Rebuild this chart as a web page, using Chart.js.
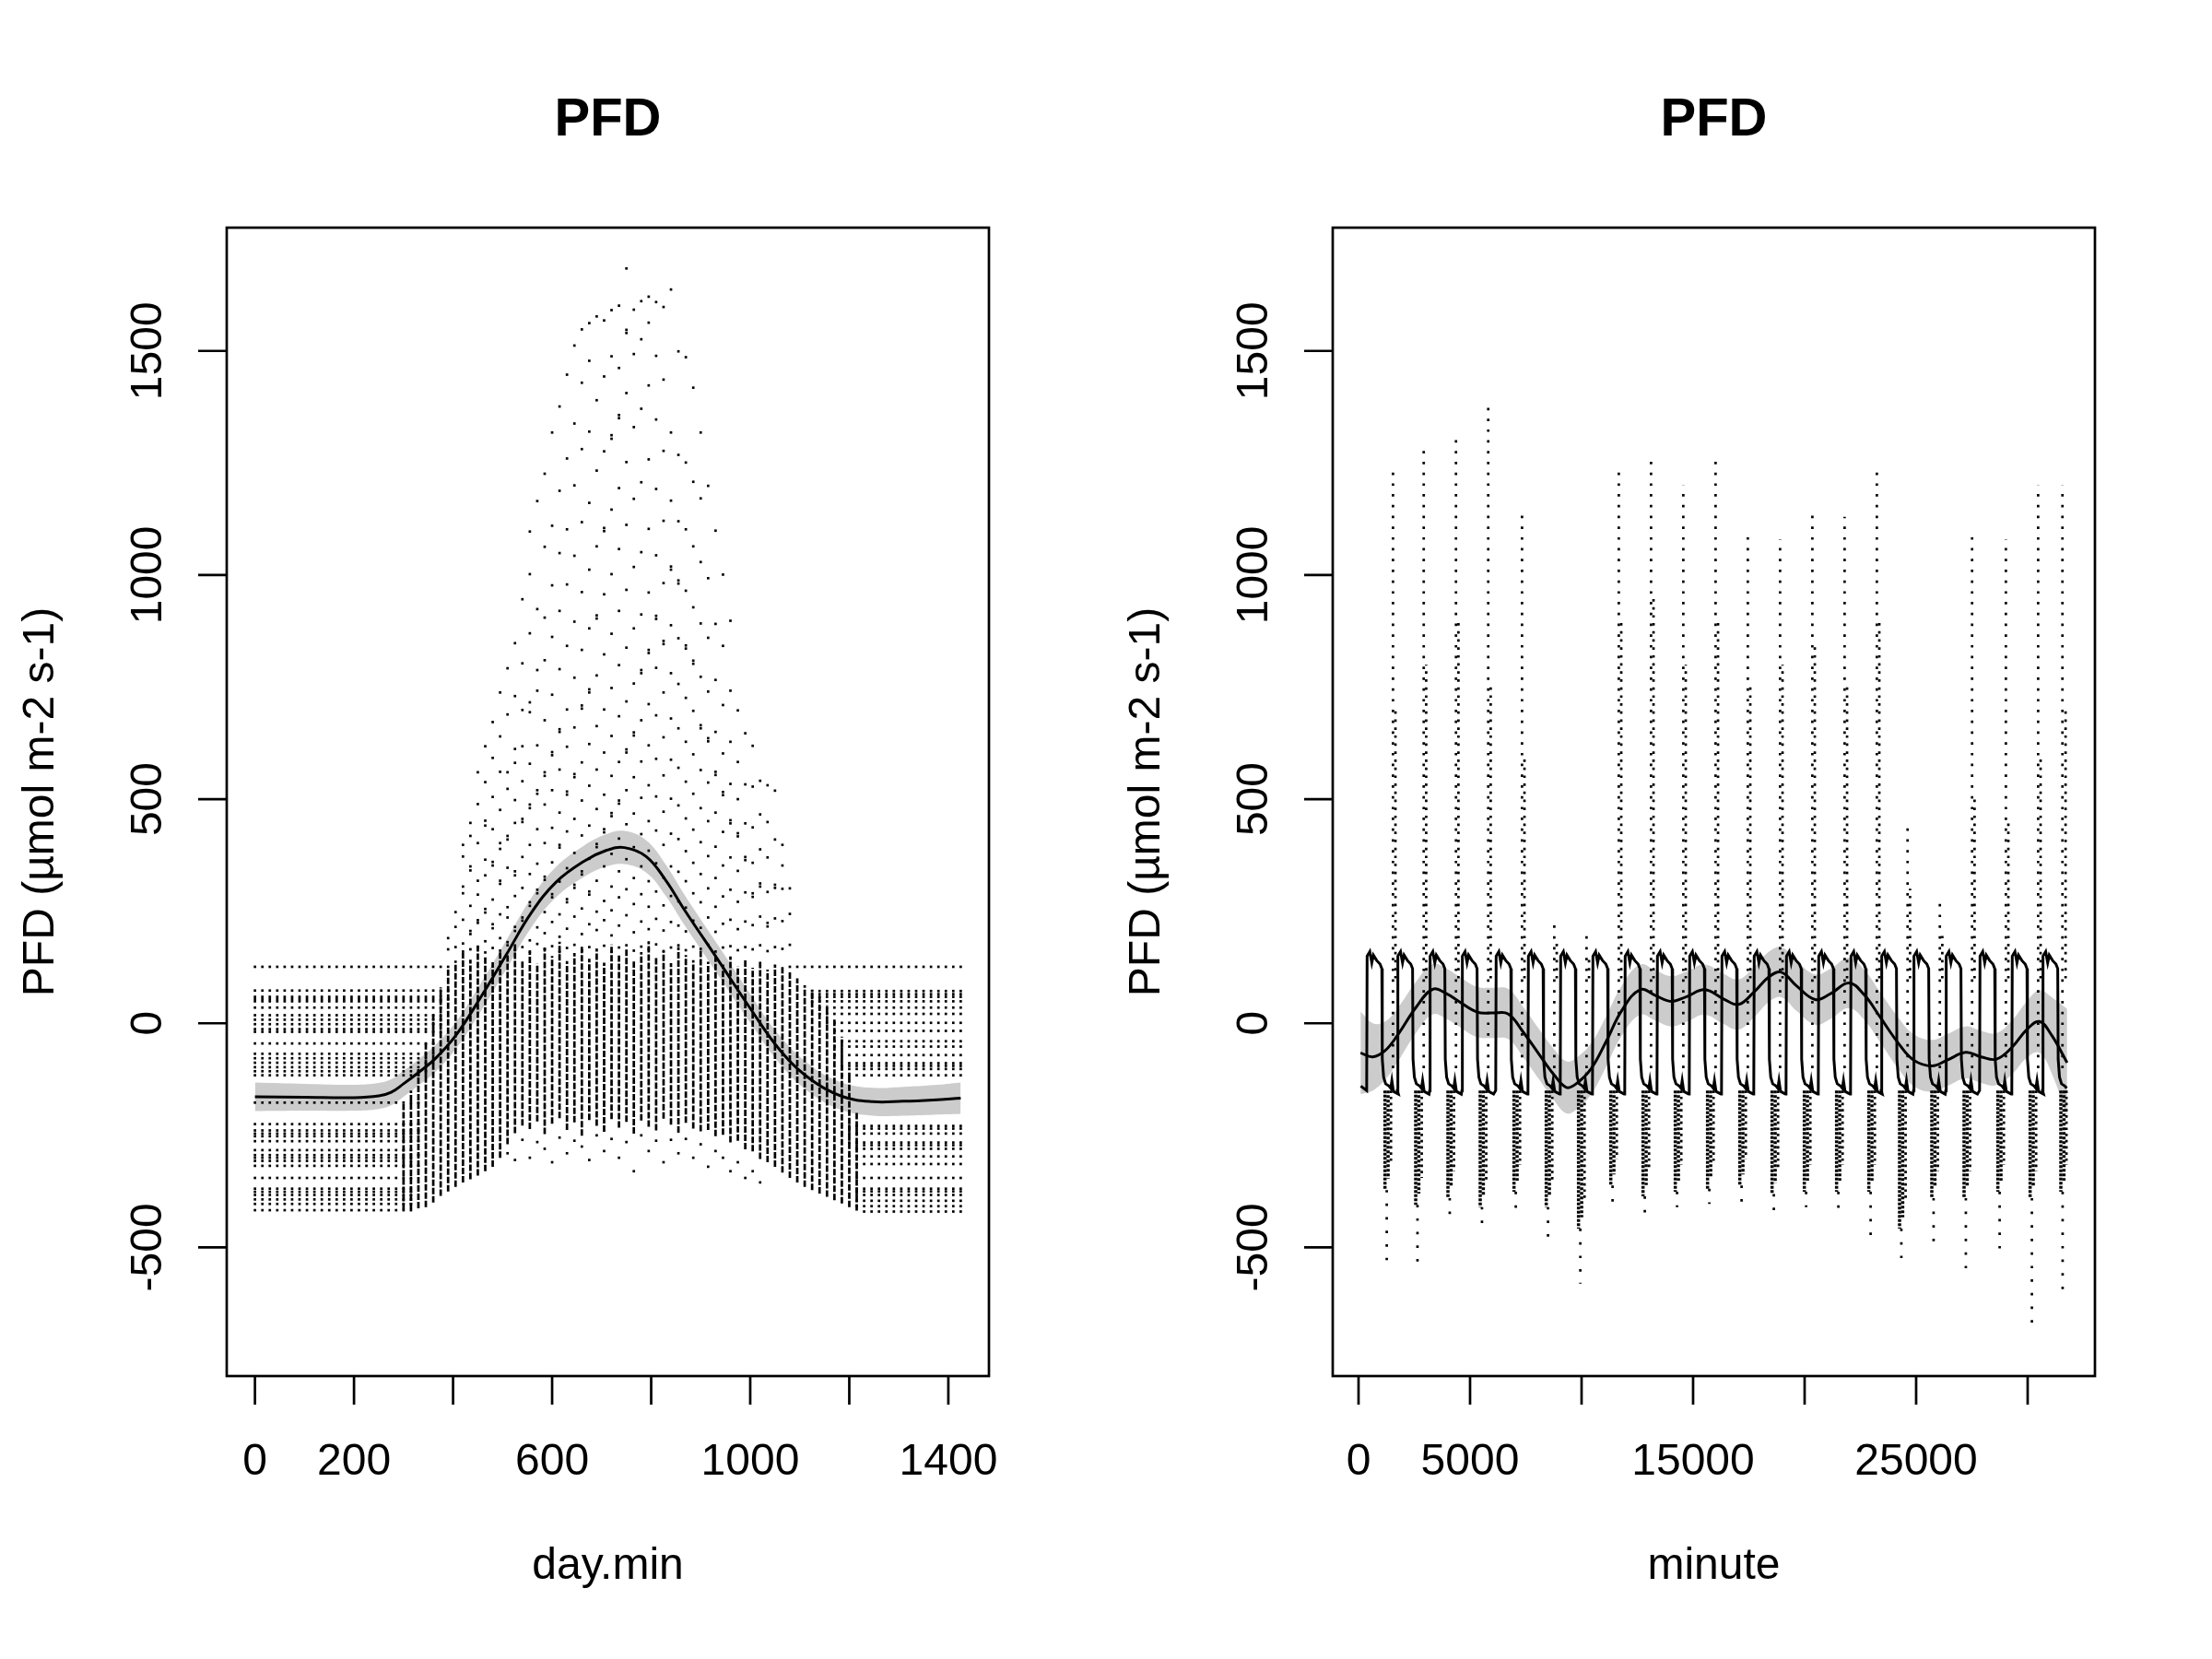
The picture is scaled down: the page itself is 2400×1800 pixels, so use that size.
<!DOCTYPE html>
<html>
<head>
<meta charset="utf-8">
<script src="https://cdn.jsdelivr.net/npm/chart.js@4.4.1/dist/chart.umd.min.js"></script>
<style>
  body { margin: 0; background: #fff; }
  #wrap { position: relative; width: 2400px; height: 1800px; }
  canvas { position: absolute; top: 0; }
</style>
</head>
<body>
<div id="wrap">
  <canvas id="left" width="1200" height="1800" style="left:0"></canvas>
  <canvas id="right" width="1200" height="1800" style="left:1200px"></canvas>
</div>
<script>
// ---- axes ----
const yTicks = [-500, 0, 500, 1000, 1500];
const yLimits = [-787, 1775];
const leftLimits = [-57, 1482];
const rightLimits = [-1157, 33017];
const leftTicks = [0, 200, 400, 600, 800, 1000, 1200, 1400];
const leftTickLabels = ['0', '200', '', '600', '', '1000', '', '1400'];
const rightTicks = [0, 5000, 10000, 15000, 20000, 25000, 30000];
const rightTickLabels = ['0', '5000', '', '15000', '', '25000', ''];

// ---- left panel: PFD against day.min ----
const sampleMinutes = [0,15,30,45,60,75,90,105,120,135,150,165,180,195,210,225,240,255,270,285,
  300,315,330,345,360,375,390,405,420,435,450,465,480,495,510,525,540,555,570,585,
  600,615,630,645,660,675,690,705,720,735,750,765,780,795,810,825,840,855,870,885,
  900,915,930,945,960,975,990,1005,1020,1035,1050,1065,1080,1095,1110,1125,1140,1155,1170,1185,
  1200,1215,1230,1245,1260,1275,1290,1305,1320,1335,1350,1365,1380,1395,1410,1425];

// night-time levels (constant per day) before sunrise and after sunset
const morningLevels = [126, 73, 59, 54, 49, 35, 18, 8, -2, -13, -19, -45, -68, -78, -88, -98, -107, -116,
  -177, -225, -239, -246, -252, -263, -283, -294, -300, -307, -318, -345, -369, -376, -383, -393, -403, -417];
const morningEnd = [395, 390, 385, 390, 380, 385, 380, 375, 380, 370, 375, 365, 360, 355, 365, 350, 355, 345,
  340, 335, 330, 335, 325, 330, 320, 330, 325, 320, 330, 320, 315, 325, 320, 315, 320, 315];
const eveningLevels = [126, 72, 65, 59, 49, 35, 21, 1, -17, -40, -52, -71, -89, -95, -102, -116,
  -229, -235, -246, -266, -272, -280, -297, -314, -345, -369, -375, -383, -396, -408, -420];
const eveningStart = [1070, 1113, 1118, 1120, 1125, 1135, 1140, 1150, 1160, 1163, 1166, 1170, 1175, 1178, 1180, 1185,
  1195, 1198, 1200, 1195, 1202, 1205, 1200, 1210, 1205, 1210, 1212, 1215, 1210, 1215, 1218];

// daytime columns of dense readings
const colMinute = [300,315,330,345,360,375,390,405,420,435,450,465,480,495,510,525,540,555,570,585,
  600,615,630,645,660,675,690,705,720,735,750,765,780,795,810,825,840,855,870,885,
  900,915,930,945,960,975,990,1005,1020,1035,1050,1065,1080,1095,1110,1125,1140,1155,1170,1185,1200,1215];
const colLow = [-416,-415,-413,-410,-400,-385,-375,-365,-355,-348,-340,-330,-320,-300,-270,-245,-228,-236,-219,-247,
  -224,-212,-238,-221,-251,-216,-229,-242,-214,-233,-220,-246,-217,-231,-239,-213,-226,-244,-222,-235,
  -241,-238,-252,-249,-266,-262,-281,-286,-303,-310,-320,-333,-345,-355,-365,-372,-380,-387,-395,-402,-410,-418];
const colHigh = [-180,-150,-100,-40,20,80,120,140,158,142,171,149,136,163,152,178,140,160,133,168,
  150,182,139,157,171,144,162,135,176,151,166,138,159,183,146,161,134,170,152,141,
  164,137,156,131,149,127,143,124,138,120,131,126,115,100,85,75,60,40,10,-30,-110,-200];

// sparse bright readings above the dense columns
const cloudMinute = [390,405,420,435,450,465,480,495,510,525,540,555,570,585,600,615,630,645,660,675,690,705,
  720,735,750,765,780,795,810,825,840,855,870,885,900,915,930,945,960,975,990,1005,1020,1035,1050,1065,1080];
const cloudPFD = [
  [165, 190],
  [170, 215, 248],
  [160, 178, 231, 290, 305, 372, 398],
  [165, 199, 206, 262, 341, 350, 418, 447],
  [171, 224, 230, 287, 318, 402, 489, 560],
  [158, 183, 247, 255, 330, 365, 441, 452, 538, 618],
  [168, 212, 221, 276, 352, 360, 433, 505, 592, 672],
  [162, 190, 243, 311, 318, 389, 402, 476, 561, 640, 738],
  [174, 181, 236, 259, 347, 410, 418, 523, 560, 689, 792],
  [163, 206, 215, 284, 330, 339, 447, 498, 581, 612, 730, 848],
  [170, 229, 236, 302, 371, 449, 456, 540, 618, 699, 803, 946],
  [160, 185, 262, 270, 333, 398, 480, 488, 579, 694, 716, 870, 1002, 1097],
  [177, 214, 290, 298, 356, 433, 512, 520, 620, 742, 788, 924, 1165],
  [166, 201, 248, 320, 327, 402, 488, 552, 560, 676, 810, 905, 1063, 1226],
  [172, 226, 281, 288, 359, 436, 520, 598, 605, 733, 862, 977, 1110, 1318],
  [159, 193, 243, 316, 392, 398, 470, 566, 650, 656, 790, 920, 1049, 1188, 1376],
  [168, 211, 270, 277, 346, 428, 510, 517, 617, 700, 842, 979, 1102, 1260, 1447],
  [175, 238, 302, 309, 380, 456, 549, 556, 660, 771, 896, 1043, 1200, 1338, 1512],
  [162, 199, 256, 332, 339, 419, 497, 582, 702, 709, 833, 962, 1118, 1281, 1429, 1548],
  [170, 221, 287, 294, 367, 441, 530, 623, 738, 745, 881, 1012, 1161, 1320, 1478, 1562],
  [164, 208, 249, 318, 393, 400, 478, 566, 663, 776, 903, 910, 1064, 1233, 1390, 1577],
  [173, 230, 273, 350, 426, 433, 510, 604, 700, 823, 957, 1098, 1105, 1276, 1443, 1568],
  [160, 196, 252, 305, 378, 462, 469, 552, 641, 748, 869, 1002, 1146, 1304, 1312, 1488, 1591],
  [169, 218, 281, 339, 412, 490, 497, 583, 685, 799, 920, 1058, 1194, 1350, 1357, 1462, 1601],
  [174, 241, 299, 366, 444, 520, 604, 611, 718, 838, 967, 1112, 1252, 1406, 1540, 1547, 1684],
  [162, 203, 266, 324, 393, 468, 549, 642, 649, 758, 881, 1018, 1170, 1330, 1493, 1592],
  [171, 227, 288, 350, 422, 503, 584, 676, 781, 788, 912, 1051, 1207, 1371, 1526, 1611],
  [165, 210, 260, 317, 385, 451, 531, 620, 712, 826, 833, 961, 1103, 1258, 1423, 1563, 1621],
  [176, 233, 294, 357, 430, 506, 590, 687, 793, 902, 909, 1044, 1192, 1347, 1489, 1609],
  [161, 207, 263, 325, 398, 472, 553, 638, 738, 846, 853, 982, 1121, 1277, 1436, 1598],
  [169, 226, 284, 350, 423, 501, 588, 680, 781, 888, 1012, 1019, 1166, 1318, 1637],
  [174, 218, 272, 338, 411, 486, 570, 658, 757, 859, 981, 988, 1120, 1268, 1499],
  [163, 205, 258, 317, 384, 457, 539, 628, 726, 836, 843, 965, 1102, 1251, 1486],
  [171, 229, 290, 358, 432, 512, 600, 697, 802, 809, 928, 1064, 1208, 1418],
  [166, 213, 270, 333, 404, 480, 565, 658, 665, 773, 892, 1029, 1171, 1318],
  [175, 236, 301, 373, 451, 537, 629, 636, 740, 860, 993, 1199],
  [160, 204, 260, 324, 394, 470, 554, 561, 650, 766, 891, 1099],
  [169, 222, 283, 352, 427, 509, 516, 602, 710, 842, 1001],
  [172, 231, 298, 370, 446, 453, 534, 628, 742, 898],
  [163, 210, 271, 340, 417, 424, 500, 583, 698],
  [170, 227, 292, 364, 371, 446, 533, 647],
  [165, 219, 282, 290, 358, 437, 528, 619],
  [174, 238, 305, 312, 388, 466, 541],
  [161, 216, 224, 293, 370, 449, 531],
  [170, 234, 302, 309, 410, 519],
  [166, 228, 300, 352, 398],
  [175, 244, 301]
];
// scattered low readings under the dense daytime columns
const lowCloud = [[510,-290],[525,-305],[540,-260],[555,-300],[570,-265],[585,-280],[600,-310],[615,-255],
  [630,-290],[645,-262],[660,-275],[675,-305],[690,-250],[705,-285],[720,-258],[735,-300],[750,-265],
  [765,-330],[780,-250],[795,-285],[810,-262],[825,-310],[840,-260],[855,-290],[870,-258],[885,-300],
  [900,-270],[915,-320],[930,-285],[945,-300],[960,-330],[975,-310],[990,-345],[1005,-330],[1020,-355]];

// loess fit on day.min
const loessLeftMin = [0, 100, 200, 250, 275, 300, 330, 365, 407, 457, 507, 557, 608, 665, 710, 746,
  790, 830, 866, 937, 999, 1061, 1123, 1185, 1247, 1309, 1370, 1425];
const loessLeftPFD = [-164, -165, -166, -162, -154, -135, -110, -78, -25, 60, 152, 245, 315, 362, 386, 392,
  372, 318, 255, 138, 35, -61, -126, -163, -175, -174, -171, -167];
const loessLeftHalf = [32, 30, 29, 29, 29, 29, 29, 30, 30, 31, 32, 33, 34, 35, 36, 37,
  36, 35, 34, 33, 32, 31, 31, 31, 31, 32, 33, 35];

// ---- right panel: PFD against minute ----
const waveRise = [365, 1743, 3189, 4635, 6150, 7596, 9043, 10489, 11935, 13381, 14828,
  16274, 17720, 19167, 20613, 22059, 23437, 24883, 26329, 27844, 29290, 30668];
const waveShapeOffset = [0, 20, 140, 230, 300, 450, 600, 680, 700, 760, 850, 1000, 1080, 1130, 1200, 1420];
const waveShapePFD = [-150, 150, 160, 135, 152, 140, 132, 122, -80, -120, -135, -140, -145, -128, -152, -158];
const lastMinute = 31751;

const upAMinute = [1545, 2923, 4369, 5815, 7330, 8776, 10223, 11669, 13115, 14561, 16008,
  17454, 18900, 20347, 21793, 23239, 24617, 26063, 27509, 29024, 30470, 31560];
const upATop = [1230, 1280, 1310, 1380, 1140, 230, 200, 1230, 1270, 1200, 1260,
  1090, 1080, 1140, 1130, 1240, 450, 280, 1090, 1080, 1200, 1200];
const upBMinute = [1655, 3033, 4479, 5925, 7440, 8886, 10333, 11779, 13225, 14671, 16118,
  17564, 19010, 20457, 21903, 23349, 24727, 26173, 27619, 29134, 30580, 31700];
const upBTop = [700, 800, 900, 750, 600, 180, 150, 900, 950, 800, 900,
  750, 800, 850, 750, 900, 300, 200, 500, 450, 600, 700];
const downAMinute = [1185, 2563, 4009, 5455, 6970, 8416, 9863, 11309, 12755, 14201, 15648,
  17094, 18540, 19987, 21433, 22879, 24257, 25703, 27149, 28664, 30110, 31488];
const downADense = [-372, -405, -390, -410, -376, -410, -458, -362, -386, -376, -369,
  -362, -381, -376, -376, -376, -458, -390, -390, -376, -390, -376];
const downBMinute = [1325, 2703, 4149, 5595, 7110, 8556, 10003, 11449, 12895, 14341, 15788,
  17234, 18680, 20127, 21573, 23019, 24397, 25843, 27289, 28804, 30250, 31628];
const downBDense = [-347, -380, -365, -385, -351, -385, -433, -337, -361, -351, -344,
  -337, -356, -351, -351, -351, -433, -365, -365, -351, -365, -351];
const downDMinute = [1455, 2833, 4279, 5725, 7240, 8686, 10133, 11579, 13025, 14471, 15918,
  17364, 18810, 20257, 21703, 23149, 24527, 25973, 27419, 28934, 30380, 31740];
const downDDense = [-312, -345, -330, -350, -316, -350, -398, -302, -326, -316, -309,
  -302, -321, -316, -316, -316, -398, -330, -330, -316, -330, -316];
const downCMinute = [1265, 2643, 4089, 5535, 7050, 8496, 9943, 11389, 12835, 14281, 15728,
  17174, 18620, 20067, 21513, 22959, 24337, 25783, 27229, 28744, 30190, 31568];
const downSparse = [-553, -553, -430, -454, -420, -478, -581, -400, -427, -410, -403,
  -400, -420, -410, -424, -493, -527, -500, -547, -527, -684, -602];

const loessRightMin = [90, 640, 1191, 1743, 2569, 3326, 3946, 4497, 5323, 6012, 6700, 7389, 8078, 8767, 9318, 9731,
  10419, 11108, 11797, 12623, 13312, 14001, 14689, 15516, 16342, 17031, 17719, 18408, 18960, 19649, 20475, 21164,
  21990, 22679, 23368, 24194, 24883, 25709, 26398, 27225, 27913, 28602, 29291, 29979, 30530, 31081, 31770];
const loessRightPFD = [-66, -75, -61, -27, 35, 76, 66, 49, 25, 23, 21, -20, -68, -115, -143, -136,
  -102, -40, 28, 75, 62, 49, 59, 75, 55, 42, 69, 104, 114, 83, 53, 66,
  90, 63, 15, -44, -82, -95, -82, -65, -75, -80, -54, -13, 4, -27, -88];
const loessRightHalf = [92, 75, 65, 60, 57, 56, 56, 56, 56, 56, 56, 56, 56, 57, 58, 58,
  57, 56, 56, 56, 56, 56, 56, 56, 56, 56, 56, 56, 56, 56, 56, 56,
  56, 56, 56, 57, 58, 58, 58, 58, 58, 58, 60, 63, 70, 85, 120];

// ---- helpers ----
const pts = (xs, ys) => xs.map((x, i) => ({ x, y: ys[i] }));
function segs(xs, from, to) {
  const out = [];
  xs.forEach((x, i) => {
    out.push({ x, y: Array.isArray(from) ? from[i] : from });
    out.push({ x, y: Array.isArray(to) ? to[i] : to });
    out.push({ x, y: null });
  });
  return out;
}
const dotStyle = { showLine: false, pointStyle: 'rect', pointRadius: 1.9, pointHoverRadius: 0,
  pointBorderWidth: 0, pointBackgroundColor: '#000', borderColor: '#000', order: 5 };
const segStyle = (dash, width = 2.7) => ({ showLine: true, pointRadius: 0, borderColor: '#000', borderWidth: width,
  borderDash: dash, spanGaps: false, order: 6 });
function bandSets(xs, ys, half) {
  return [
    { data: pts(xs, ys.map((v, i) => v + half[i])), showLine: true, pointRadius: 0, borderWidth: 0,
      borderColor: 'rgba(0,0,0,0)', backgroundColor: '#cccccc', fill: '+1', tension: 0.4, order: 10 },
    { data: pts(xs, ys.map((v, i) => v - half[i])), showLine: true, pointRadius: 0, borderWidth: 0,
      borderColor: 'rgba(0,0,0,0)', fill: false, tension: 0.4, order: 10 }
  ];
}
const fitStyle = { showLine: true, pointRadius: 0, borderColor: '#000', borderWidth: 3, tension: 0.4, order: 0 };

function rFrame(xTicks, xLabels, xTitle) {
  return {
    id: 'rFrame',
    afterDraw(chart) {
      const { ctx, chartArea: a, scales: { x, y } } = chart;
      ctx.save();
      ctx.strokeStyle = '#000';
      ctx.lineWidth = 2.7;
      ctx.setLineDash([]);
      ctx.strokeRect(a.left, a.top, a.right - a.left, a.bottom - a.top);
      ctx.beginPath();
      xTicks.forEach(v => {
        const px = x.getPixelForValue(v);
        ctx.moveTo(px, a.bottom); ctx.lineTo(px, a.bottom + 31);
      });
      yTicks.forEach(v => {
        const py = y.getPixelForValue(v);
        ctx.moveTo(a.left, py); ctx.lineTo(a.left - 31, py);
      });
      ctx.stroke();
      ctx.fillStyle = '#000';
      ctx.textAlign = 'center';
      ctx.textBaseline = 'alphabetic';
      ctx.font = '48px "Liberation Sans", Arial, sans-serif';
      xTicks.forEach((v, i) => {
        if (xLabels[i]) ctx.fillText(xLabels[i], x.getPixelForValue(v), a.bottom + 107);
      });
      yTicks.forEach(v => {
        ctx.save();
        ctx.translate(a.left - 71, y.getPixelForValue(v));
        ctx.rotate(-Math.PI / 2);
        ctx.fillText(String(v), 0, 0);
        ctx.restore();
      });
      const cx = (a.left + a.right) / 2;
      ctx.fillText(xTitle, cx, a.bottom + 220);
      ctx.save();
      ctx.translate(a.left - 188, (a.top + a.bottom) / 2);
      ctx.rotate(-Math.PI / 2);
      ctx.fillText('PFD (µmol m-2 s-1)', 0, 0);
      ctx.restore();
      ctx.font = 'bold 58px "Liberation Sans", Arial, sans-serif';
      ctx.fillText('PFD', cx, a.top - 100);
      ctx.restore();
    }
  };
}

function baseOptions(xLim) {
  return {
    responsive: false,
    animation: false,
    devicePixelRatio: 1,
    events: [],
    layout: { padding: { left: 246, right: 127, top: 247, bottom: 307 } },
    plugins: { legend: { display: false }, tooltip: { enabled: false } },
    scales: {
      x: { type: 'linear', min: xLim[0], max: xLim[1], display: false },
      y: { type: 'linear', min: yLimits[0], max: yLimits[1], display: false }
    }
  };
}

// ---- build left datasets ----
const nightPts = [];
morningLevels.forEach((lv, i) => sampleMinutes.forEach(m => { if (m <= morningEnd[i]) nightPts.push({ x: m, y: lv }); }));
eveningLevels.forEach((lv, i) => sampleMinutes.forEach(m => { if (m >= eveningStart[i]) nightPts.push({ x: m, y: lv }); }));
const cloudPts = [];
cloudMinute.forEach((m, i) => cloudPFD[i].forEach(v => cloudPts.push({ x: m, y: v })));
lowCloud.forEach(([m, v]) => cloudPts.push({ x: m, y: v }));

new Chart(document.getElementById('left'), {
  type: 'scatter',
  data: {
    datasets: [
      ...bandSets(loessLeftMin, loessLeftPFD, loessLeftHalf),
      { data: segs(colMinute, colLow, colHigh), ...segStyle([7, 2]) },
      { data: nightPts, ...dotStyle },
      { data: cloudPts, ...dotStyle },
      { data: pts(loessLeftMin, loessLeftPFD), ...fitStyle }
    ]
  },
  options: baseOptions(leftLimits),
  plugins: [rFrame(leftTicks, leftTickLabels, 'day.min')]
});

// ---- build right datasets ----
const wavePts = [{ x: 100, y: -140 }];
waveRise.forEach(r => waveShapeOffset.forEach((o, j) => {
  if (r + o <= lastMinute) wavePts.push({ x: r + o, y: waveShapePFD[j] });
}));

new Chart(document.getElementById('right'), {
  type: 'scatter',
  data: {
    datasets: [
      ...bandSets(loessRightMin, loessRightPFD, loessRightHalf),
      { data: wavePts, showLine: true, pointRadius: 0, borderColor: '#000', borderWidth: 3, tension: 0, order: 4 },
      { data: segs(upAMinute, -100, upATop), ...segStyle([2.7, 9]) },
      { data: segs(upBMinute, 100, upBTop), ...segStyle([2.7, 6]) },
      { data: segs(downAMinute, -150, downADense), ...segStyle([3, 1.5], 3.5) },
      { data: segs(downBMinute, -150, downBDense), ...segStyle([3, 2], 3.5) },
      { data: segs(downDMinute, -150, downDDense), ...segStyle([2.7, 4]) },
      { data: segs(downCMinute, downADense, downSparse), ...segStyle([2.7, 12]) },
      { data: pts(loessRightMin, loessRightPFD), ...fitStyle }
    ]
  },
  options: baseOptions(rightLimits),
  plugins: [rFrame(rightTicks, rightTickLabels, 'minute')]
});
</script>
</body>
</html>
